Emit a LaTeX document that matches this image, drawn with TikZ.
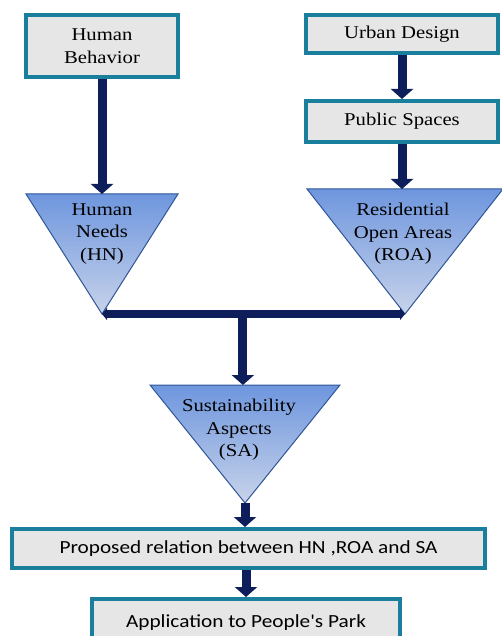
\documentclass[tikz,border=0pt]{standalone}
\usepackage{fontspec}
\setmainfont{Liberation Serif}[FakeStretch=1.15]
\newfontfamily\boxsans{Carlito}[FakeStretch=1.15]
\usetikzlibrary{arrows.meta, positioning, calc}

\definecolor{boxedge}{HTML}{1A7F9C}
\definecolor{boxfill}{HTML}{E6E6E6}
\definecolor{navy}{HTML}{0E1E5B}
\definecolor{tritop}{HTML}{6E96DE}
\definecolor{tribot}{HTML}{C8D3EA}
\definecolor{triedge}{HTML}{2F5597}

\begin{document}
\begin{tikzpicture}[
      x=1pt, y=-1pt,
      stage/.style     ={rectangle, draw=boxedge, fill=boxfill, line width=4pt, inner sep=0pt, align=center, font=\fontsize{18}{23}\selectfont},
      plain/.style     ={stage, font=\boxsans\fontsize{18.5}{22}\selectfont},
      funneltext/.style={align=center, inner sep=0pt, font=\fontsize{18}{22.5}\selectfont},
      funnel/.style    ={draw=triedge, line width=1pt, top color=tritop, bottom color=tribot},
      flow/.style      ={draw=navy, line width=9pt, -{Triangle[width=22pt, length=10pt]}},
      bar/.style       ={draw=navy, line width=8pt, {Triangle[width=12pt, length=5pt]}-{Triangle[width=12pt, length=5pt]}}
    ]

    \useasboundingbox (0,0) rectangle (502,636);
    \clip (0,0) rectangle (502,636);

    % Kasser oeverst
    \node[stage, minimum width=152pt, minimum height=62pt] (HB) at (102,46)  {Human\\Behavior};
    \node[stage, minimum width=192pt, minimum height=38pt] (UD) at (402,34)  {Urban Design};
    \node[stage, minimum width=192pt, minimum height=41pt] (PS) at (402,121.5) {Public Spaces};

    % Trekanter
    \coordinate (hnL)  at (26,194);  \coordinate (hnR)  at (178,194); \coordinate (hnTip)  at (102,314);
    \coordinate (roaL) at (307,189); \coordinate (roaR) at (503,189); \coordinate (roaTip) at (405,314);
    \coordinate (saL)  at (150,385); \coordinate (saR)  at (340,385); \coordinate (saTip)  at (245,503);
    \shade[funnel] (hnL) -- (hnR) -- (hnTip) -- cycle;
    \shade[funnel] (roaL) -- (roaR) -- (roaTip) -- cycle;
    \shade[funnel] (saL) -- (saR) -- (saTip) -- cycle;

    \node[funneltext] (HN)  at (102,234) {Human\\Needs\\(HN)};
    \node[funneltext] (ROA) at (403,234) {Residential\\Open Areas\\(ROA)};
    \node[funneltext] (SA)  at (239,430) {Sustainability\\Aspects\\(SA)};

    % Kasser nederst
    \node[plain, minimum width=473pt, minimum height=39pt] (PR) at (248.5,548.5) {Proposed relation between HN ,ROA and SA};
    \node[plain, minimum width=308pt, minimum height=48pt] (AP) at (246,623) {Application to People's Park};

    % Piler
    \draw[flow] (HB.south) -- (HB.south |- hnL);
    \draw[flow] (UD.south) -- (PS.north);
    \draw[flow] (PS.south) -- (PS.south |- roaL);

    % Samlebjelke mellom HN og ROA
    \draw[bar] (hnTip) -- (roaTip);
    \coordinate (hub) at ($(hnTip)!0.465!(roaTip)$);
    \draw[flow] (hub) -- (hub |- saL);

    \draw[flow] (saTip) -- (saTip |- PR.north);
    \draw[flow] (AP.north |- PR.south) -- (AP.north);

  \end{tikzpicture}
\end{document}
